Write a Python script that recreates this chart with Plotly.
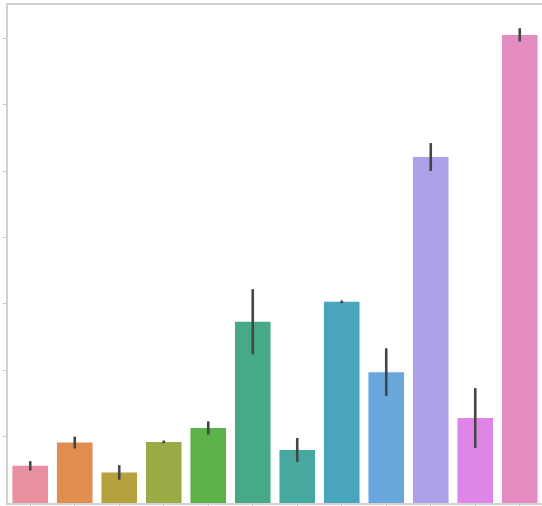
import plotly.graph_objects as go

# Twelve groups, mean value and error half-width for each bar
categories = [f"g{i}" for i in range(1, 13)]
means = [0.56, 0.91, 0.46, 0.92, 1.13, 2.73, 0.80, 3.03, 1.97, 5.21, 1.28, 7.05]
errors = [0.07, 0.09, 0.11, 0.02, 0.10, 0.49, 0.18, 0.02, 0.36, 0.21, 0.45, 0.10]

# Desaturated husl-style palette
colors = ["#e8909f", "#e08d4f", "#b5a13e", "#9aab45", "#5cb148", "#45aa85",
          "#47a8a0", "#48a5bc", "#68a6dc", "#aea0e8", "#de85e8", "#e48cc1"]

fig = go.Figure(
    go.Bar(
        x=categories,
        y=means,
        marker=dict(color=colors, line=dict(width=0)),
        error_y=dict(type="data", array=errors, visible=True,
                     color="#454545", thickness=2.6, width=0),
    )
)

axis_style = dict(
    showline=True, linecolor="#d2d2d2", linewidth=2,
    showgrid=False, zeroline=False, ticks="outside", ticklen=3,
    tickcolor="#c8c8c8", tickwidth=1, showticklabels=False,
)

fig.update_layout(
    width=542, height=506,
    margin=dict(l=8, r=0, t=5, b=3),
    paper_bgcolor="white", plot_bgcolor="white",
    bargap=0.2, showlegend=False,
    # top frame line via mirror on x; right side left open
    xaxis=dict(range=[-0.5, 11.5], mirror=True, **axis_style),
    yaxis=dict(range=[0, 7.5], tickvals=[1, 2, 3, 4, 5, 6, 7],
               mirror=False, **axis_style),
)

fig.write_html("out.html")
